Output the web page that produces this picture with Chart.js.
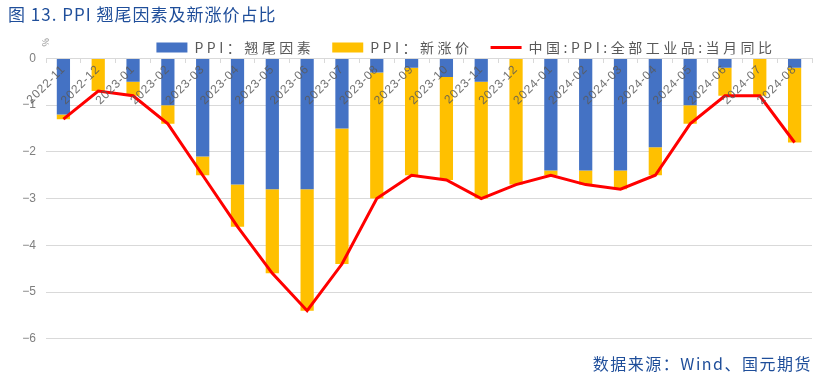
<!DOCTYPE html>
<html>
<head>
<meta charset="utf-8">
<script src="https://cdn.jsdelivr.net/npm/chart.js@4.4.1/dist/chart.umd.min.js"></script>
<style>
  html, body { margin: 0; padding: 0; background: #fff; }
  #wrap { width: 832px; height: 378px; }
</style>
</head>
<body>
<div id="wrap"><canvas id="chart" width="832" height="378"></canvas></div>
<script>
const months = ['2022-11', '2022-12', '2023-01', '2023-02', '2023-03', '2023-04', '2023-05', '2023-06',
  '2023-07', '2023-08', '2023-09', '2023-10', '2023-11', '2023-12', '2024-01', '2024-02',
  '2024-03', '2024-04', '2024-05', '2024-06', '2024-07', '2024-08'];
// 翘尾因素
const carryOver = [-1.2, 0, -0.5, -1.0, -2.1, -2.7, -2.8, -2.8, -1.5, -0.3, -0.2, -0.4,
  -0.5, 0, -2.4, -2.4, -2.4, -1.9, -1.0, -0.2, 0, -0.2];
// 新涨价
const newPrice = [-0.1, -0.7, -0.3, -0.4, -0.4, -0.9, -1.8, -2.6, -2.9, -2.7, -2.3, -2.2,
  -2.5, -2.7, -0.1, -0.3, -0.4, -0.6, -0.4, -0.6, -0.8, -1.6];
// PPI 当月同比
const ppiYoY = [-1.3, -0.7, -0.8, -1.4, -2.5, -3.6, -4.6, -5.4, -4.4, -3.0, -2.5, -2.6,
  -3.0, -2.7, -2.5, -2.7, -2.8, -2.5, -1.4, -0.8, -0.8, -1.8];
const yTicks = [0, -1, -2, -3, -4, -5, -6];

const cjk = '"Noto Sans CJK SC", "Noto Sans", sans-serif';
const sourceText = '数据来源：Wind、国元期货';

// small rotated % unit mark above the y axis
const unitMark = {
  id: 'unitMark',
  afterDraw(chart) {
    const ctx = chart.ctx;
    ctx.save();
    ctx.translate(chart.chartArea.left, chart.chartArea.top - 16);
    ctx.rotate(-Math.PI / 2);
    ctx.font = '9px ' + cjk;
    ctx.fillStyle = '#8c8c8c';
    ctx.textAlign = 'center';
    ctx.textBaseline = 'middle';
    ctx.fillText('%', 0, 0);
    ctx.restore();
  }
};

const chart = new Chart(document.getElementById('chart'), {
  type: 'bar',
  data: {
    labels: months,
    datasets: [
      {
        label: 'PPI：翘尾因素',
        data: carryOver,
        backgroundColor: '#4472C4',
        borderWidth: 0,
        categoryPercentage: 1,
        barPercentage: 0.38
      },
      {
        label: 'PPI：新涨价',
        data: newPrice,
        backgroundColor: '#FFC000',
        borderWidth: 0,
        categoryPercentage: 1,
        barPercentage: 0.38
      },
      {
        type: 'line',
        label: '中国:PPI:全部工业品:当月同比',
        data: ppiYoY,
        stack: 'line',
        borderColor: '#FF0000',
        backgroundColor: '#FF0000',
        borderWidth: 3,
        pointRadius: 0,
        tension: 0,
        order: -1
      }
    ]
  },
  options: {
    responsive: false,
    animation: false,
    layout: { padding: { left: 8, right: 20, top: 0, bottom: 0 } },
    plugins: {
      title: {
        display: true,
        text: '图 13. PPI 翘尾因素及新涨价占比',
        align: 'start',
        color: '#1F4E9A',
        font: { family: cjk, size: 17, weight: 'normal' },
        padding: { top: 4, bottom: 2 }
      },
      subtitle: {
        display: true,
        position: 'bottom',
        align: 'end',
        text: sourceText,
        color: '#1F4E9A',
        font: { family: cjk, size: 16 },
        padding: { top: 16, bottom: 4 }
      },
      legend: {
        position: 'top',
        maxHeight: 32,
        labels: {
          usePointStyle: true,
          pointStyleWidth: 31,
          boxHeight: 10,
          padding: 18,
          color: '#595959',
          font: { family: cjk, size: 14 },
          sort: (a, b) => a.datasetIndex - b.datasetIndex,
          generateLabels(chart) {
            const items = Chart.defaults.plugins.legend.labels.generateLabels(chart);
            items.forEach(it => {
              const ds = chart.data.datasets[it.datasetIndex];
              if (ds.type === 'line') {
                it.pointStyle = 'line';
                it.lineWidth = 3;
                it.strokeStyle = '#FF0000';
              } else {
                it.pointStyle = 'rect';
                it.lineWidth = 0;
              }
            });
            return items;
          }
        }
      },
      tooltip: { enabled: false }
    },
    scales: {
      x: {
        stacked: true,
        position: { y: 0 },
        grid: {
          offset: true,
          drawOnChartArea: false,
          drawTicks: true,
          tickLength: 4,
          color: '#d9d9d9'
        },
        border: { display: true, color: '#d9d9d9' },
        ticks: {
          z: 1,
          autoSkip: false,
          minRotation: 45,
          maxRotation: 45,
          padding: 0,
          color: 'rgba(89,89,89,0.85)',
          font: { family: '"Liberation Sans", sans-serif', size: 12 }
        }
      },
      y: {
        stacked: true,
        min: -6,
        max: 0,
        afterBuildTicks(scale) {
          scale.ticks = yTicks.map(v => ({ value: v }));
        },
        afterFit(scale) {
          scale.width = 38;
        },
        grid: { color: '#d9d9d9', drawTicks: false },
        border: { display: false },
        ticks: {
          padding: 10,
          color: '#7f7f7f',
          font: { family: '"Liberation Sans", sans-serif', size: 12 },
          callback: v => (v < 0 ? '\u2212' + Math.abs(v) : String(v))
        }
      }
    }
  },
  plugins: [unitMark]
});

// the reference text is set with wider letter spacing; wrap the boxes that draw it
function spaced(obj, names, spacing, dx = 0, dy = 0) {
  names.forEach(name => {
    const orig = obj[name];
    obj[name] = function () {
      const ctx = this.ctx;
      const old = ctx.letterSpacing;
      ctx.save();
      ctx.letterSpacing = spacing;
      if (name === 'draw' && (dx || dy)) ctx.translate(dx, dy);
      const r = orig.apply(this, arguments);
      ctx.restore();
      ctx.letterSpacing = old;
      return r;
    };
  });
}
spaced(chart.legend, ['fit', 'draw'], '3.5px', 56, -4);
spaced(chart.titleBlock, ['fit', 'draw'], '1px');
const sub = chart.boxes.find(b => b.options && b.options.text === sourceText);
if (sub) spaced(sub, ['fit', 'draw'], '1.5px');
spaced(chart.scales.x, ['drawLabels'], '0.8px');
chart.update();
</script>
</body>
</html>
